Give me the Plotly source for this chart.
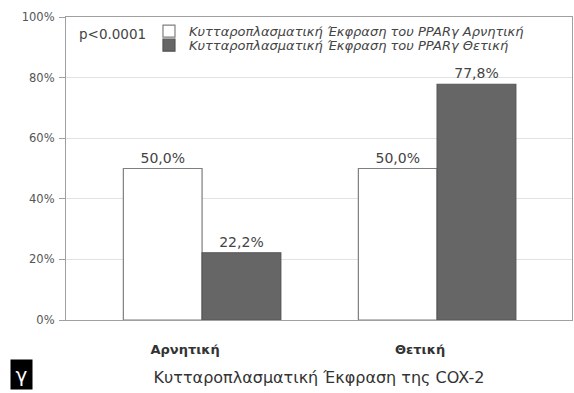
import plotly.graph_objects as go

categories = ["Αρνητική", "Θετική"]
ppar_neg = [50.0, 50.0]
ppar_pos = [22.2, 77.8]
series_names = ["Κυτταροπλασματική Έκφραση του PPARγ Αρνητική",
                "Κυτταροπλασματική Έκφραση του PPARγ Θετική"]
y_ticks = [0, 20, 40, 60, 80, 100]
y_ticklabels = ["0%", "20%", "40%", "60%", "80%", "100%"]

def lab(v):
    return f"{v:.1f}%".replace(".", ",")

FONT = "DejaVu Sans, sans-serif"
legfont = dict(family=FONT, size=13, color="#444444", style="italic")

fig = go.Figure()
fig.add_trace(go.Bar(
    x=categories, y=ppar_neg, name=series_names[0], legend="legend",
    marker=dict(color="#ffffff", line=dict(color="#7f7f7f", width=1.2)),
    text=[lab(v) for v in ppar_neg], textposition="outside",
    textfont=dict(family=FONT, size=14, color="#444444"), cliponaxis=False,
))
fig.add_trace(go.Bar(
    x=categories, y=ppar_pos, name=series_names[1], legend="legend2",
    marker=dict(color="#666666", line=dict(color="#555555", width=1.2)),
    text=[lab(v) for v in ppar_pos], textposition="outside",
    textfont=dict(family=FONT, size=14, color="#444444"), cliponaxis=False,
))

fig.update_layout(
    width=574, height=393,
    margin=dict(l=66, r=2, t=17, b=73),
    paper_bgcolor="#ffffff", plot_bgcolor="#ffffff",
    barmode="group", bargap=0.33, bargroupgap=0,
    font=dict(family=FONT, color="#555555"),
    legend=dict(
        x=0.164, y=0.953, xanchor="left", yanchor="middle",
        font=legfont, bgcolor="rgba(0,0,0,0)", itemwidth=30,
    ),
    legend2=dict(
        x=0.164, y=0.907, xanchor="left", yanchor="middle",
        font=legfont, bgcolor="rgba(0,0,0,0)", itemwidth=30,
    ),
    showlegend=True,
    xaxis=dict(
        range=[-0.579, 1.574],
        showline=True, linecolor="#a0a0a0", linewidth=1.2, mirror=True,
        ticks="", showgrid=False,
        tickfont=dict(family=FONT, size=13, color="#333333", weight="bold"),
        ticklabelstandoff=17, ticklabelshift=-17,
        title=dict(text="Κυτταροπλασματική Έκφραση της COX-2",
                   font=dict(family=FONT, size=16, color="#333333"), standoff=16),
    ),
    yaxis=dict(
        range=[0, 100], tickvals=y_ticks, ticktext=y_ticklabels,
        showline=True, linecolor="#a0a0a0", linewidth=1.2, mirror=True,
        ticks="outside", ticklen=6, tickcolor="#a0a0a0",
        showgrid=True, gridcolor="#e2e2e2", gridwidth=1, zeroline=False,
        tickfont=dict(family=FONT, size=11.5, color="#555555"),
        ticklabelstandoff=2,
    ),
    annotations=[
        dict(text="p<0.0001", xref="paper", yref="paper", x=0.022, y=0.945,
             xanchor="left", yanchor="middle", showarrow=False,
             font=dict(family=FONT, size=13.5, color="#444444")),
        dict(text="γ", xref="paper", yref="paper", x=-0.088, y=-0.1815,
             xanchor="center", yanchor="middle", showarrow=False,
             bgcolor="#000000", borderpad=2, width=17, height=25,
             font=dict(family=FONT, size=20, color="#ffffff")),
    ],
)

fig.write_html("out.html")
